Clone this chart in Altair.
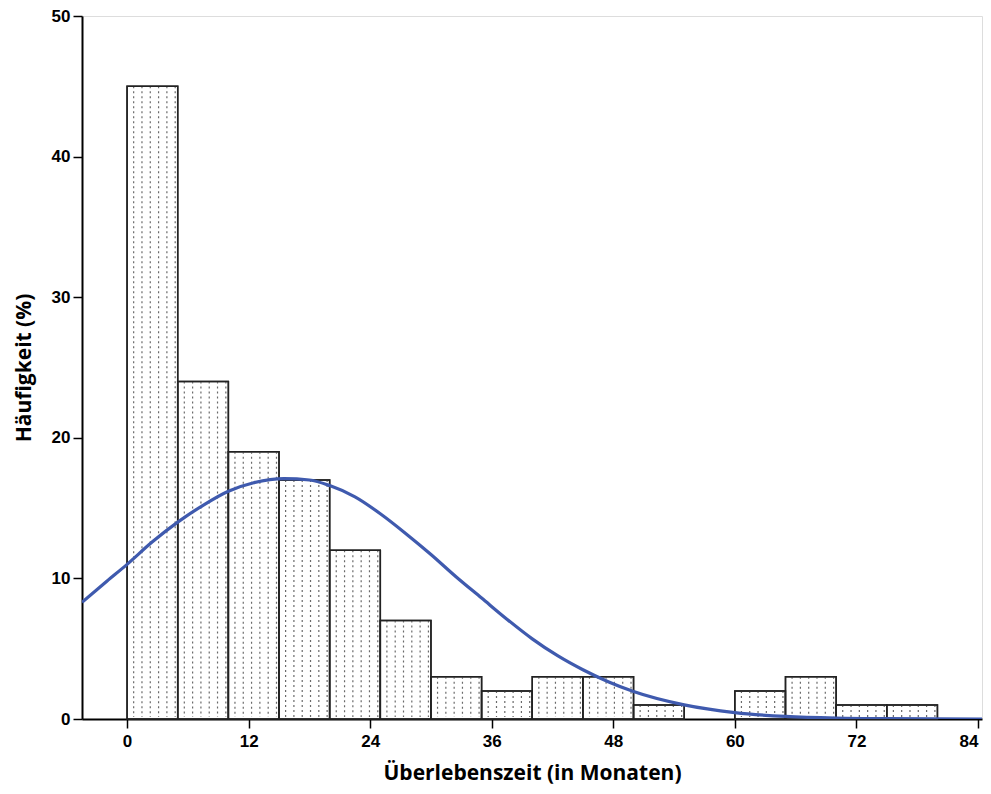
import altair as alt
import pandas as pd

# Histogram bins (months) and frequencies
bin_start = [0, 5, 10, 15, 20, 25, 30, 35, 40, 45, 50, 55, 60, 65, 70, 75]
bin_end = [5, 10, 15, 20, 25, 30, 35, 40, 45, 50, 55, 60, 65, 70, 75, 80]
counts = [45, 24, 19, 17, 12, 7, 3, 2, 3, 3, 1, 0, 2, 3, 1, 1]

# Normal curve, points
curve_x = [-4.45, -2, 0, 2.5, 5, 7.5, 10, 12.5, 15.5, 18, 20, 22.5, 25, 27.5, 30, 32.5, 35, 37.5, 40, 42.5, 45, 47.5, 50, 55, 60, 65, 70, 75, 84.4]
curve_y = [8.3, 9.8, 11.0, 12.6, 14.0, 15.2, 16.2, 16.8, 17.1, 17.0, 16.6, 15.8, 14.6, 13.2, 11.7, 10.1, 8.6, 7.1, 5.7, 4.5, 3.5, 2.65, 1.95, 1.0, 0.45, 0.18, 0.06, 0.02, 0.0]

x_ticks = [0, 12, 24, 36, 48, 60, 72, 84]
y_ticks = [0, 10, 20, 30, 40, 50]

bars = pd.DataFrame({"start": bin_start, "end": bin_end, "count": counts})
bars = bars[bars["count"] > 0]
curve = pd.DataFrame({"x": curve_x, "y": curve_y})

# dotted fill pattern lines derived from the bars
hatch_rows = []
for s, e, c in zip(bars["start"], bars["end"], bars["count"]):
    for k in range(6):
        hatch_rows.append({"hx": s + 0.65 + k * 0.82, "top": c})
hatch = pd.DataFrame(hatch_rows)

xscale = alt.Scale(domain=[-4.45, 84.4], nice=False, zero=False)
yscale = alt.Scale(domain=[0, 50], nice=False)

tick_font = "Liberation Sans Narrow, Arial Narrow, Liberation Sans"

common = dict(grid=False, labelFont=tick_font, labelFontWeight="bold", labelFontSize=17,
              labelColor="black", tickColor="black", tickSize=9, tickWidth=1.5,
              domainColor="black", domainWidth=2,
              titleFont="Open Sans", titleFontSize=21, titleFontWeight="bold",
              titleColor="black")

xaxis = alt.Axis(values=x_ticks, title="Überlebenszeit (in Monaten)", labelPadding=5,
                 titlePadding=13,
                 labelAlign=alt.ExprRef("datum.value == 84 ? 'right' : 'center'"),
                 **common)
yaxis = alt.Axis(values=y_ticks, title="Häufigkeit (%)", labelPadding=3,
                 titlePadding=17, **common)

bar_layer = alt.Chart(bars).mark_rect(fill="white", stroke="#222", strokeWidth=1.5).encode(
    x=alt.X("start:Q", scale=xscale, axis=xaxis),
    x2="end:Q",
    y=alt.Y("count:Q", scale=yscale, axis=yaxis),
    y2=alt.datum(0),
)

hatch_layer = alt.Chart(hatch).mark_rule(color="#6a6a6a", strokeWidth=1.2, strokeDash=[2, 3]).encode(
    x=alt.X("hx:Q", scale=xscale),
    y=alt.Y("top:Q", scale=yscale),
    y2=alt.datum(0.15),
)

outline_layer = alt.Chart(bars).mark_rect(fill=None, stroke="#222", strokeWidth=1.5).encode(
    x=alt.X("start:Q", scale=xscale),
    x2="end:Q",
    y=alt.Y("count:Q", scale=yscale),
    y2=alt.datum(0),
)

curve_layer = alt.Chart(curve).mark_line(color="#3F5AAE", strokeWidth=3.2, interpolate="monotone", clip=True).encode(
    x=alt.X("x:Q", scale=xscale),
    y=alt.Y("y:Q", scale=yscale),
)

chart = alt.layer(bar_layer, hatch_layer, outline_layer, curve_layer).properties(
    width=900,
    height=703,
    autosize=alt.AutoSizeParams(type="none"),
    padding={"left": 74, "top": 8, "right": 1, "bottom": 66},
).configure_view(stroke="#6e6e6e", strokeWidth=2).configure(background="white")

chart.save("out.html", embed_options={"renderer": "svg", "actions": False})
